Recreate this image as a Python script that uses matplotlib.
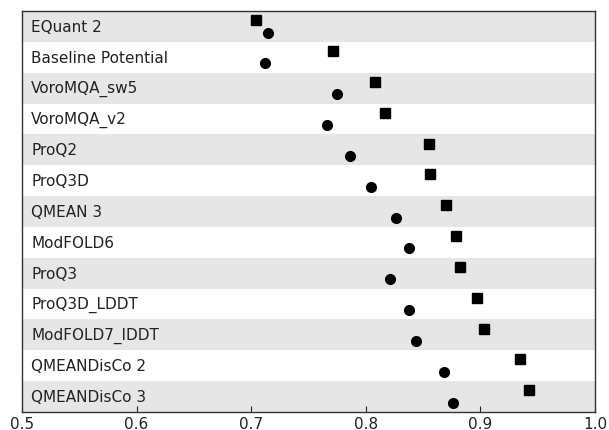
import matplotlib
matplotlib.use("Agg")
import matplotlib.pyplot as plt
import numpy as np

methods = ["EQuant 2", "Baseline Potential", "VoroMQA_sw5", "VoroMQA_v2", "ProQ2",
           "ProQ3D", "QMEAN 3", "ModFOLD6", "ProQ3", "ProQ3D_LDDT", "ModFOLD7_IDDT",
           "QMEANDisCo 2", "QMEANDisCo 3"]
square_vals = [0.704, 0.771, 0.808, 0.817, 0.855, 0.856, 0.870, 0.879, 0.882, 0.897, 0.903, 0.935, 0.942]
circle_vals = [0.715, 0.712, 0.775, 0.766, 0.786, 0.805, 0.826, 0.838, 0.821, 0.838, 0.844, 0.868, 0.876]
xticks = [0.5, 0.6, 0.7, 0.8, 0.9, 1.0]

fig = plt.figure(figsize=(6.09, 4.31), dpi=100)
ax = fig.add_axes([0.036, 0.042, 0.941, 0.930])
n = len(methods)
y = np.arange(n)
for i in range(n):
    if i % 2 == 0:
        ax.axhspan(i - 0.5, i + 0.5, color="#e6e6e6", zorder=0, lw=0)
    ax.text(0.508, i, methods[i], va="center", ha="left", fontsize=11, color="#222222", zorder=3)

ax.plot(square_vals, y - 0.2, "s", color="black", markersize=7, zorder=4, linestyle="none")
ax.plot(circle_vals, y + 0.2, "o", color="black", markersize=7, zorder=4, linestyle="none")

ax.set_xlim(0.5, 1.0)
ax.set_ylim(n - 0.5, -0.5)
ax.set_xticks(xticks)
ax.set_xticklabels(["0.5", "0.6", "0.7", "0.8", "0.9", "1.0"])
ax.set_yticks([])
ax.tick_params(axis="x", direction="in", length=4, labelsize=11, pad=3, colors="#222222")
for s in ax.spines.values():
    s.set_color("#333333")
    s.set_linewidth(1.0)
fig.savefig("out.png", dpi=100)
